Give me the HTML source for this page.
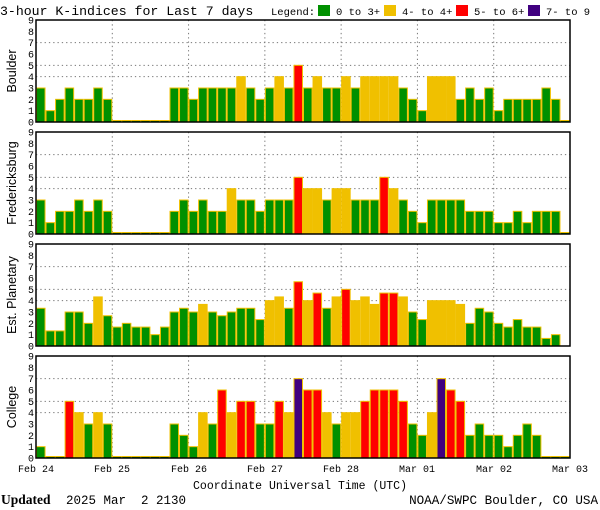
<!DOCTYPE html>
<html><head><meta charset="utf-8"><style>
html,body{margin:0;padding:0;background:#fff;}
svg{display:block;}
text{font-family:"Liberation Mono",monospace;fill:#000;}
</style></head><body>
<svg id="s" width="600" height="510" xmlns="http://www.w3.org/2000/svg">
<text x="0" y="15" font-size="13.2">3-hour K-indices for Last 7 days</text>
<text x="271" y="15" font-size="10.5">Legend:</text>
<rect x="318" y="5" width="12" height="11" fill="#009000"/>
<text x="336" y="15" font-size="10.5">0 to 3+</text>
<rect x="384" y="5" width="12" height="11" fill="#f0c000"/>
<text x="402" y="15" font-size="10.5">4- to 4+</text>
<rect x="456" y="5" width="12" height="11" fill="#ff0000"/>
<text x="474" y="15" font-size="10.5">5- to 6+</text>
<rect x="528" y="5" width="12" height="11" fill="#400080"/>
<text x="546" y="15" font-size="10.5">7- to 9</text>
<g id="g"></g>
<text x="36" y="472" font-size="10" text-anchor="middle">Feb 24</text>
<text x="112" y="472" font-size="10" text-anchor="middle">Feb 25</text>
<text x="189" y="472" font-size="10" text-anchor="middle">Feb 26</text>
<text x="265" y="472" font-size="10" text-anchor="middle">Feb 27</text>
<text x="341" y="472" font-size="10" text-anchor="middle">Feb 28</text>
<text x="417" y="472" font-size="10" text-anchor="middle">Mar 01</text>
<text x="494" y="472" font-size="10" text-anchor="middle">Mar 02</text>
<text x="570" y="472" font-size="10" text-anchor="middle">Mar 03</text>
<text x="300" y="489" font-size="11.5" text-anchor="middle">Coordinate Universal Time (UTC)</text>
<text x="1" y="504" font-size="13.5" style="font-family:'Liberation Serif',serif;font-weight:bold">Updated</text>
<text x="66" y="504" font-size="12.5">2025 Mar&#160; 2 2130</text>
<text x="598" y="504" font-size="12.6" text-anchor="end">NOAA/SWPC Boulder, CO USA</text>
</svg>
<script>
var P=[
["Boulder",[3,1,2,3,2,2,3,2, 0,0,0,0,0,0,3,3, 2,3,3,3,3,4,3,2, 3,4,3,5,3,4,3,3, 4,3,4,4,4,4,3,2, 1,4,4,4,2,3,2,3, 1,2,2,2,2,3,2,0]],
["Fredericksburg",[3,1,2,2,3,2,3,2, 0,0,0,0,0,0,2,3, 2,3,2,2,4,3,3,2, 3,3,3,5,4,4,3,4, 4,3,3,3,5,4,3,2, 1,3,3,3,3,2,2,2, 1,1,2,1,2,2,2,0]],
["Est. Planetary",[3.33,1.33,1.33,3,3,2,4.33,2.67, 1.67,2,1.67,1.67,1,1.67,3,3.33, 3,3.67,3,2.67,3,3.33,3.33,2.33, 4,4.33,3.33,5.67,4,4.67,3.33,4.33, 5,4,4.33,3.67,4.67,4.67,4.33,3, 2.33,4,4,4,3.67,2,3.33,3, 2,1.67,2.33,1.67,1.67,0.67,1,-1]],
["College",[1,0,0,5,4,3,4,3, 0,0,0,0,0,0,3,2, 1,4,3,6,4,5,5,3, 3,5,4,7,6,6,4,3, 4,4,5,6,6,6,5,3, 2,4,7,6,5,2,3,2, 2,1,2,3,2,0,0,0]]
];
var tops=[20,132,244,356],H=102,X0=36,W=534,u=H/9,bw=W/56,h="";
function col(v){return v<3.5?"#009000":v<4.5?"#f0c000":v<6.5?"#ff0000":"#400080";}
P.forEach(function(p,i){var t=tops[i],b=t+H;
 for(var k=0;k<=9;k++){h+='<text x="34" y="'+(b-k*u+3.5)+'" font-size="10" text-anchor="end">'+k+'</text>';}
 h+='<text transform="translate(16,'+(t+H/2)+') rotate(-90)" font-size="12.5" style="font-family:\'Liberation Sans\',sans-serif" text-anchor="middle">'+p[0]+'</text>';
 [4,5,7].forEach(function(k){h+='<line x1="36" x2="570" y1="'+(b-k*u)+'" y2="'+(b-k*u)+'" stroke="#777" stroke-dasharray="1.3,3"/>';});
 for(var d=1;d<7;d++){var x=X0+d*W/7;h+='<line x1="'+x+'" x2="'+x+'" y1="'+t+'" y2="'+b+'" stroke="#777" stroke-dasharray="1.3,3"/>';}
 p[1].forEach(function(v,j){if(v<0)return;var x=X0+j*bw,hh=v==0?1.5:v*u;
  h+='<rect x="'+(x+0.5)+'" y="'+(b-hh)+'" width="'+(bw-1)+'" height="'+hh+'" fill="'+col(v)+'" stroke="#f0c000" stroke-width="1"/>';});
 h+='<rect x="36" y="'+t+'" width="534" height="'+H+'" fill="none" stroke="#000" stroke-width="1.5"/>';
});
document.getElementById("g").innerHTML=h;
</script>
</body></html>
